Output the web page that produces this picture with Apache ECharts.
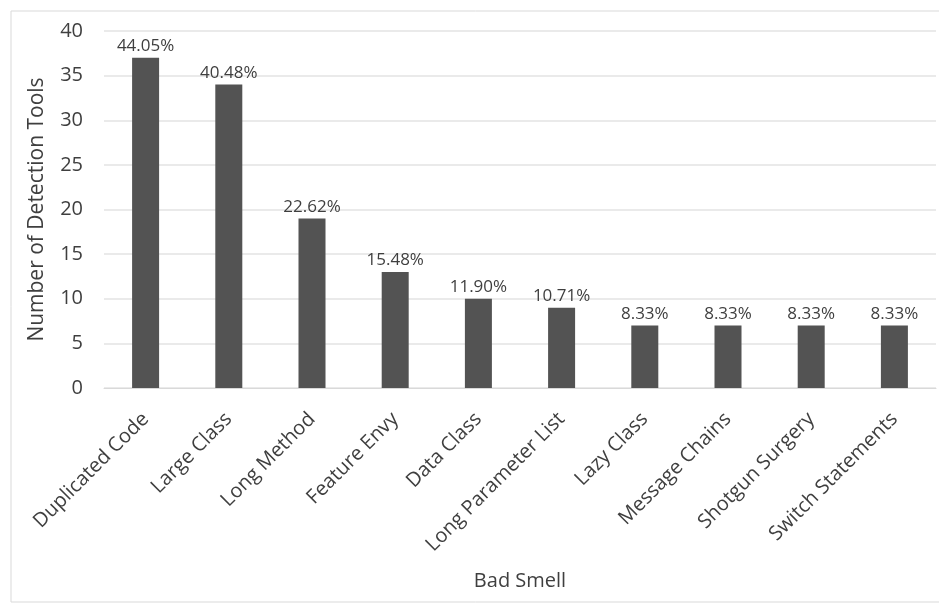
<!DOCTYPE html>
<html>
<head>
<meta charset="utf-8">
<script src="https://cdn.jsdelivr.net/npm/echarts@6/dist/echarts.min.js"></script>
<style>
  html, body { margin: 0; padding: 0; background: #fff; }
  #chart { width: 939px; height: 605px; }
</style>
</head>
<body>
<div id="chart"></div>
<script>
// Bad smells and how many detection tools cover each one
const smells = ['Duplicated Code', 'Large Class', 'Long Method', 'Feature Envy', 'Data Class',
  'Long Parameter List', 'Lazy Class', 'Message Chains', 'Shotgun Surgery', 'Switch Statements'];
const toolCounts = [37, 34, 19, 13, 10, 9, 7, 7, 7, 7];
const shareLabels = ['44.05%', '40.48%', '22.62%', '15.48%', '11.90%', '10.71%', '8.33%', '8.33%', '8.33%', '8.33%'];
const yTicks = [0, 5, 10, 15, 20, 25, 30, 35, 40];

const FONT = '"Open Sans", "Noto Sans", sans-serif';
const TEXT = '#3f3f3f';
const chart = echarts.init(document.getElementById('chart'), null, { renderer: 'canvas' });

chart.setOption({
  backgroundColor: '#ffffff',
  animation: false,
  graphic: [{
    type: 'rect',
    shape: { x: 11, y: 11, width: 940, height: 591 },
    style: { fill: 'none', stroke: '#d9d9d9', lineWidth: 1 },
    silent: true
  }],
  grid: { left: 104, right: 3, top: 31, bottom: 217 },
  xAxis: {
    type: 'category',
    data: smells,
    name: 'Bad Smell',
    nameLocation: 'middle',
    nameGap: 183,
    nameTextStyle: { fontFamily: FONT, fontSize: 20, color: TEXT },
    axisLine: { show: true, lineStyle: { color: '#d9d9d9' } },
    axisTick: { show: false },
    axisLabel: {
      rotate: 45,
      margin: 28,
      interval: 0,
      fontFamily: FONT,
      fontSize: 20,
      color: TEXT
    }
  },
  yAxis: {
    type: 'value',
    min: yTicks[0],
    max: yTicks[yTicks.length - 1],
    interval: yTicks[1] - yTicks[0],
    name: 'Number of Detection Tools',
    nameLocation: 'middle',
    nameGap: 56,
    nameTextStyle: { fontFamily: FONT, fontSize: 21, color: TEXT },
    axisLine: { show: false },
    axisTick: { show: false },
    splitLine: { lineStyle: { color: '#e3e3e3', width: 1.5 } },
    axisLabel: { fontFamily: FONT, fontSize: 20, color: TEXT, margin: 21 }
  },
  series: [{
    type: 'bar',
    data: toolCounts,
    barWidth: 27,
    itemStyle: { color: '#535353' },
    label: {
      show: true,
      position: 'top',
      distance: 3,
      fontFamily: FONT,
      fontSize: 17,
      color: TEXT,
      formatter: p => shareLabels[p.dataIndex]
    }
  }]
});
</script>
</body>
</html>
